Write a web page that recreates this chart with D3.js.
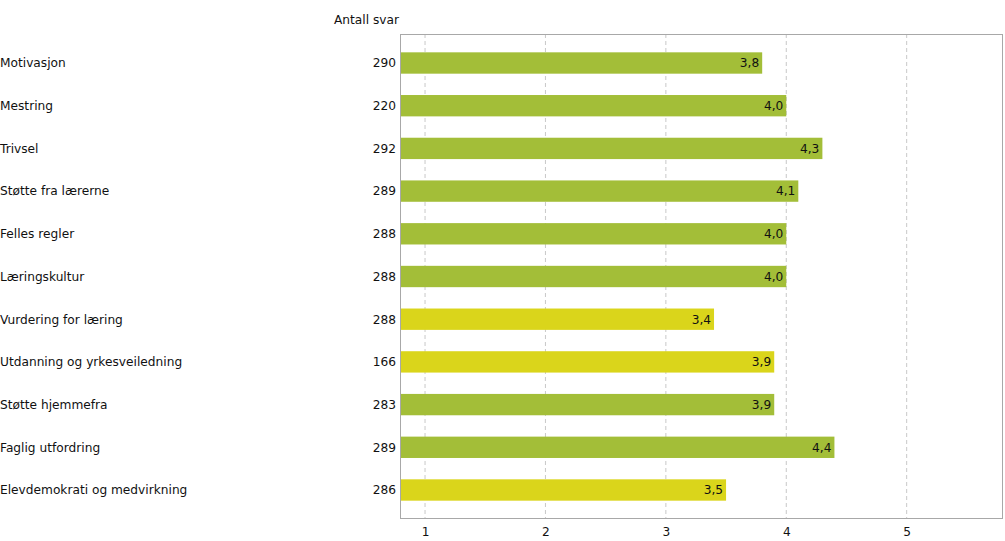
<!DOCTYPE html>
<html><head><meta charset="utf-8">
<script src="https://cdn.jsdelivr.net/npm/d3@7"></script>
<style>body{margin:0;background:#fff}svg{display:block;font-family:Verdana,"DejaVu Sans",sans-serif}</style>
</head><body>
<svg id="c" width="1005" height="541"></svg>
<script>
const categories = ["Motivasjon","Mestring","Trivsel","Støtte fra lærerne","Felles regler","Læringskultur","Vurdering for læring","Utdanning og yrkesveiledning","Støtte hjemmefra","Faglig utfordring","Elevdemokrati og medvirkning"];
const values = [3.8,4.0,4.3,4.1,4.0,4.0,3.4,3.9,3.9,4.4,3.5];
const counts = [290,220,292,289,288,288,288,166,283,289,286];
const groups = ["g","g","g","g","g","g","y","y","g","g","y"];
const ticks = [1,2,3,4,5];
const colors = {g:"#a3be38", y:"#dad51b"};

const FS = 12.2;
const svg = d3.select("#c");
const L=400,R=1003,T=34,B=518;
const x = d3.scaleLinear().domain([0.792,5.8]).range([L,R]);
const y = d3.scaleBand().domain(categories).range([41.65,511.35]).paddingInner(0.5).paddingOuter(0.25);

// gridlines
svg.append("g").selectAll("line").data(ticks).join("line")
  .attr("x1",d=>x(d)).attr("x2",d=>x(d)).attr("y1",T).attr("y2",B)
  .attr("stroke","#c8c8c8").attr("stroke-dasharray","4,3");

// bars
svg.append("g").selectAll("rect").data(categories).join("rect")
  .attr("x",L).attr("y",d=>y(d)).attr("height",y.bandwidth())
  .attr("width",(d,i)=>x(values[i])-L).attr("fill",(d,i)=>colors[groups[i]]);

// frame
svg.append("rect").attr("x",L+0.5).attr("y",T+0.5).attr("width",R-L-1).attr("height",B-T)
  .attr("fill","none").attr("stroke","#a8a8a8");

const fmt = v => d3.format(".1f")(v).replace(".",",");
// value labels
svg.append("g").selectAll("text").data(categories).join("text")
  .attr("x",(d,i)=>x(values[i])-3).attr("y",d=>y(d)+y.bandwidth()/2).attr("dy","0.36em")
  .attr("text-anchor","end").attr("font-size",FS).attr("fill","#111").text((d,i)=>fmt(values[i]));

// category labels
svg.append("g").selectAll("text").data(categories).join("text")
  .attr("x",0).attr("y",d=>y(d)+y.bandwidth()/2).attr("dy","0.36em")
  .attr("font-size",FS).attr("fill","#111").text(d=>d);

// counts
svg.append("g").selectAll("text").data(categories).join("text")
  .attr("x",396).attr("y",d=>y(d)+y.bandwidth()/2).attr("dy","0.36em")
  .attr("text-anchor","end").attr("font-size",FS).attr("fill","#111").text((d,i)=>counts[i]);

svg.append("text").attr("x",334).attr("y",24).attr("font-size",FS).attr("fill","#111").text("Antall svar");

// x axis
const ax = svg.append("g").attr("transform",`translate(0,${B})`)
  .call(d3.axisBottom(x).tickValues(ticks).tickSize(0).tickPadding(9).tickFormat(d3.format("d")));
ax.select(".domain").remove();
ax.selectAll("text").attr("font-size",FS).attr("fill","#111").attr("font-family","Verdana,'DejaVu Sans',sans-serif");
</script>
</body></html>
